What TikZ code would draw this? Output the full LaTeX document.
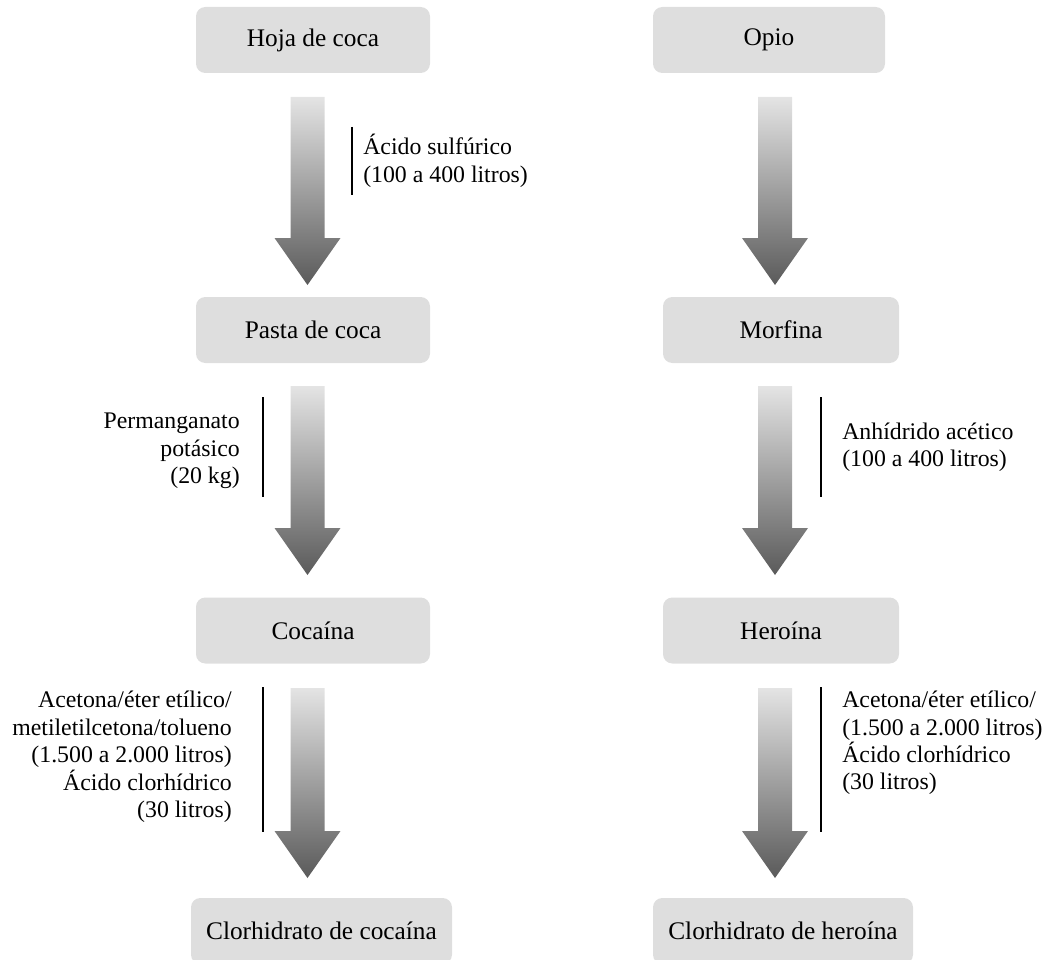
\documentclass[tikz,border=0pt]{standalone}
\usepackage{fontspec}
\setmainfont{Liberation Serif}
\usetikzlibrary{calc}
\definecolor{boxgray}{HTML}{DEDEDE}
\definecolor{arrtop}{HTML}{E4E4E4}
\definecolor{arrbot}{HTML}{5A5A5A}
\newcommand\bigarrow[3]{%
  \shade[top color=arrtop, bottom color=arrbot]
    (#1-17,#2) -- (#1+17,#2) -- (#1+17,#3-47) -- (#1+33,#3-47) --
    (#1,#3) -- (#1-33,#3-47) -- (#1-17,#3-47) -- cycle;}
\tikzset{
  stepbox/.style={fill=boxgray, rounded corners=7pt, minimum height=49.5pt,
    inner sep=0pt, font=\fontsize{19}{22}\selectfont},
  lbl/.style={inner sep=0pt, font=\fontsize{17.85}{20.6}\selectfont},
  rule/.style={line width=0.9pt, black}
}
\begin{document}
\begin{tikzpicture}[x=0.75pt,y=-0.75pt]
\useasboundingbox (0,0) rectangle (1048,959);
% left column
\node[stepbox, minimum width=175.5pt] (hoja) at (313,40) {Hoja de coca};
\node[stepbox, minimum width=175.5pt] (pasta) at (313,330) {Pasta de coca};
\node[stepbox, minimum width=175.5pt] (coca) at (313,630.5) {Cocaína};
\node[stepbox, minimum width=195.75pt] (clcoca) at (321.5,931) {Clorhidrato de cocaína};
% right column
\node[stepbox, minimum width=174pt] (opio) at (769,40) {Opio};
\node[stepbox, minimum width=177pt] (morf) at (781,330) {Morfina};
\node[stepbox, minimum width=177pt] (hero) at (781,630.5) {Heroína};
\node[stepbox, minimum width=195pt] (clhero) at (783,931) {Clorhidrato de heroína};
% arrows
\bigarrow{307.5}{97}{285}
\bigarrow{307.5}{386}{575}
\bigarrow{307.5}{688}{878}
\bigarrow{775}{97}{285}
\bigarrow{775}{386}{575}
\bigarrow{775}{688}{878}
% labels
\draw[rule] (352,127) -- (352,195);
\node[lbl, anchor=west, align=left] (l1) at (363,161) {Ácido sulfúrico\\(100 a 400 litros)};
\draw[rule] (263,397) -- (263,497);
\node[lbl, anchor=east, align=right] (l2) at (240,451) {Permanganato\\potásico\\(20 kg)};
\draw[rule] (263,687) -- (263,832);
\node[lbl, anchor=east, align=right] (l3) at (232,757) {Acetona/éter etílico/\\metiletilcetona/tolueno\\(1.500 a 2.000 litros)\\Ácido clorhídrico\\(30 litros)};
\draw[rule] (821,397) -- (821,497);
\node[lbl, anchor=west, align=left] (r2) at (842,447) {Anhídrido acético\\(100 a 400 litros)};
\draw[rule] (821,687) -- (821,832);
\node[lbl, anchor=west, align=left] (r3) at (842,743) {Acetona/éter etílico/\\(1.500 a 2.000 litros)\\Ácido clorhídrico\\(30 litros)};
\end{tikzpicture}
\end{document}
